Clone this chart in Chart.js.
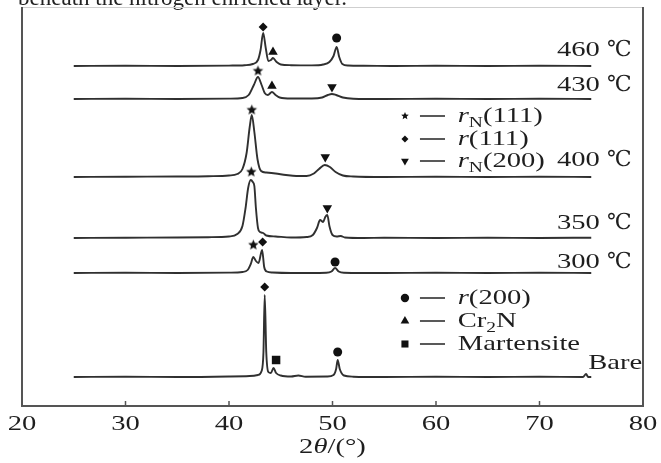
<!DOCTYPE html>
<html><head><meta charset="utf-8">
<script src="https://cdn.jsdelivr.net/npm/chart.js@4/dist/chart.umd.min.js"></script>
<style>html,body{margin:0;padding:0;background:#fff}canvas{display:block}</style>
</head><body>
<canvas id="c" width="661" height="463"></canvas>
<script>
// ---------- data ----------
const xTicks = [20, 30, 40, 50, 60, 70, 80];
const traceNames = ['460', '430', '400', '350', '300', 'Bare'];
const tempUnit = '℃';
const offsets = [340, 307, 229, 168, 133, 29];

const x460 = [25, 30, 35, 40, 41.5, 42.3, 42.8, 43.05, 43.3, 43.55, 43.8, 44.05, 44.25, 44.6, 45.0, 46, 48, 49.1, 49.7, 50.1, 50.4, 50.65, 50.95, 51.5, 53, 56, 60, 65, 70, 75];
const y460 = [0, 0.3, 0, 0.4, 0.8, 2, 6, 16, 33, 18, 5, 6, 8, 4, 1.5, 0.8, 0.6, 1.5, 4, 10, 19, 9, 2, 0.5, 0.3, 0, 0.3, 0, 0.3, 0];

const x430 = [25, 30, 35, 40, 41.3, 41.9, 42.4, 42.8, 43.15, 43.45, 43.75, 44.15, 44.5, 44.9, 46, 48, 49.0, 49.55, 49.95, 50.35, 51.0, 52, 55, 60, 65, 70, 75];
const y430 = [0, 0.3, 0, 0.4, 1, 4, 14, 22, 14, 6, 4, 7, 4, 1.5, 0.5, 0.5, 1.5, 4, 5, 4, 1.5, 0.3, 0, 0.3, 0, 0.3, 0];

const x400 = [25, 30, 35, 38, 40, 40.8, 41.3, 41.7, 42.0, 42.2, 42.45, 42.75, 43.1, 43.6, 44.5, 45.5, 46.5, 47.5, 48.2, 48.7, 49.25, 49.75, 50.3, 51.0, 52, 55, 60, 65, 70, 75];
const y400 = [0, 0.3, 0.5, 0.8, 1.5, 3, 8, 24, 50, 62, 45, 18, 6, 4.5, 3.5, 2, 1, 1, 3.5, 8, 12, 10, 5, 1.5, 0.5, 0, 0.3, 0, 0.3, 0];

const x350 = [25, 30, 35, 38, 40, 40.8, 41.3, 41.6, 41.85, 42.1, 42.3, 42.45, 42.6, 42.8, 43.0, 43.3, 43.6, 44.5, 46, 47.5, 48.1, 48.5, 48.8, 49.1, 49.3, 49.5, 49.7, 50.0, 50.4, 50.8, 51.2, 53, 55, 60, 65, 70, 75];
const y350 = [0, 0.3, 0.5, 0.8, 1.5, 4, 12, 30, 50, 58, 56, 52, 30, 10, 6, 5, 2.5, 1.5, 0.5, 1, 3, 10, 18, 16, 21, 23, 12, 3, 1.5, 2, 0.5, 0, 0.3, 0, 0.3, 0, 0.3];

const x300 = [25, 30, 35, 40, 41.3, 41.8, 42.1, 42.35, 42.6, 42.85, 43.2, 43.4, 43.65, 44.2, 46, 49.4, 49.9, 50.25, 50.6, 51.1, 55, 60, 65, 70, 75];
const y300 = [0, 0.3, 0, 0.4, 1, 3, 9, 16, 12, 10, 23, 6, 1.5, 0.5, 0, 0.3, 1.5, 5, 1.5, 0.3, 0, 0.3, 0, 0.3, 0];

const xBare = [25, 30, 35, 40, 42.0, 42.8, 43.15, 43.33, 43.45, 43.6, 43.8, 44.05, 44.3, 44.55, 45.0, 46.0, 46.7, 47.4, 49.5, 50.1, 50.35, 50.5, 50.7, 51.1, 52, 55, 60, 65, 70, 74.2, 74.5, 74.7, 75];
const yBare = [0, 0.3, 0, 0.5, 1, 2, 6, 25, 82, 25, 5, 4, 9, 4, 1.5, 0.5, 1.5, 0.3, 0.5, 2, 8, 17, 8, 1.5, 0.3, 0, 0.3, 0, 0.3, 0, 3, 0, 0];

const traceX = [x460, x430, x400, x350, x300, xBare];
const traceY = [y460, y430, y400, y350, y300, yBare];

// peak markers: 2θ, height, phase
const markX = [43.3, 44.25, 50.4, 42.8, 44.15, 49.95, 42.2, 49.3, 42.15, 49.5, 42.35, 43.25, 50.25, 43.45, 44.55, 50.5];
const markY = [379, 354, 368, 335, 320, 319, 296, 249, 234, 198, 161, 164, 144, 119, 46, 54];
const markPhase = ['r111', 'Cr2N', 'r200', 'rN111', 'Cr2N', 'rN200', 'rN111', 'rN200', 'rN111', 'rN200', 'rN111', 'r111', 'r200', 'r111', 'M', 'r200'];

// legend
const legendPhases = ['rN111', 'r111', 'rN200', 'r200', 'Cr2N', 'M'];
const legendTexts = [
  [['r', 'i'], ['N', 'sub'], ['(111)', '']],
  [['r', 'i'], ['(111)', '']],
  [['r', 'i'], ['N', 'sub'], ['(200)', '']],
  [['r', 'i'], ['(200)', '']],
  [['Cr', ''], ['2', 'sub'], ['N', '']],
  [['Martensite', '']]
];

// ---------- layout (positions, in axis units) ----------
const legendRowY = [290, 267, 245, 108, 85, 62];
const legendMarkX = 57.0, legendDash = [58.45, 60.87], legendTextX = 62.1;
const labelY = [356, 321, 246, 183, 144, 43];
const labelRightX = 78.9, bareLeftX = 74.7;

// ---------- styles ----------
const SX = 1.3;
const FONT = '"Liberation Serif","DejaVu Serif",serif';
function starCanvas(r) {
  const s = Math.ceil(r * 2 + 2);
  const cv = document.createElement('canvas');
  cv.width = s; cv.height = s;
  const c = cv.getContext('2d');
  c.fillStyle = '#111';
  c.beginPath();
  for (let i = 0; i < 10; i++) {
    const rr = i % 2 ? r * 0.45 : r;
    const a = -Math.PI / 2 + i * Math.PI / 5;
    c.lineTo(s / 2 + rr * Math.cos(a), s / 2 + rr * Math.sin(a));
  }
  c.closePath(); c.fill();
  return cv;
}
const starBig = starCanvas(5.5), starSmall = starCanvas(4);
const peakStyle = {
  rN111: {s: starBig, r: 5, rot: 0},
  r111: {s: 'rectRot', r: 4.5, rot: 0},
  rN200: {s: 'triangle', r: 5.5, rot: 180},
  r200: {s: 'circle', r: 4.5, rot: 0},
  Cr2N: {s: 'triangle', r: 5.5, rot: 0},
  M: {s: 'rect', r: 6, rot: 0}
};
const legStyle = {
  rN111: {s: starSmall, r: 4, rot: 0},
  r111: {s: 'rectRot', r: 3.5, rot: 0},
  rN200: {s: 'triangle', r: 4.5, rot: 180},
  r200: {s: 'circle', r: 4.2, rot: 0},
  Cr2N: {s: 'triangle', r: 5, rot: 0},
  M: {s: 'rect', r: 5, rot: 0}
};

function drawRich(ctx, parts, x, y, align, size) {
  const fontFor = k => k === 'i' ? `italic ${size}px ${FONT}` : k === 'sub' ? `${Math.round(size * 0.66)}px ${FONT}` : `${size}px ${FONT}`;
  ctx.save();
  let w = 0; const ws = [];
  for (const [t, k] of parts) {
    ctx.font = fontFor(k);
    let m = ctx.measureText(t).width;
    if (k === 'deg') m = m / SX;
    ws.push(m); w += m;
  }
  ctx.translate(x, y); ctx.scale(SX, 1);
  let cx = align === 'right' ? -w : align === 'center' ? -w / 2 : 0;
  ctx.textBaseline = 'middle'; ctx.textAlign = 'left'; ctx.fillStyle = '#1e1e1e';
  parts.forEach(([t, k], i) => {
    ctx.font = fontFor(k);
    if (k === 'deg') {
      ctx.save(); ctx.translate(cx, 0); ctx.scale(1 / SX, 1); ctx.fillText(t, 0, 0); ctx.restore();
    } else {
      ctx.fillText(t, cx, k === 'sub' ? size * 0.3 : 0);
    }
    cx += ws[i];
  });
  ctx.restore();
}

const deco = {
  id: 'deco',
  beforeDraw(chart) {
    const c = chart.ctx; c.save(); c.fillStyle = '#fff'; c.fillRect(0, 0, chart.width, chart.height); c.restore();
  },
  afterDraw(chart) {
    const {ctx, chartArea: a, scales: {x, y}} = chart;
    ctx.save();
    // cut-off caption text above the figure
    ctx.font = `23px ${FONT}`; ctx.fillStyle = '#222'; ctx.textBaseline = 'alphabetic'; ctx.textAlign = 'left';
    ctx.fillText('beneath the nitrogen enriched layer.', 18, 5);
    // frame
    ctx.strokeStyle = '#cfcfcf'; ctx.lineWidth = 1;
    ctx.beginPath(); ctx.moveTo(a.left, a.top + 0.5); ctx.lineTo(a.right, a.top + 0.5); ctx.stroke();
    ctx.strokeStyle = '#555'; ctx.lineWidth = 2;
    ctx.beginPath(); ctx.moveTo(a.left, a.top); ctx.lineTo(a.left, a.bottom); ctx.lineTo(a.right, a.bottom); ctx.lineTo(a.right, a.top); ctx.stroke();
    // ticks + tick labels
    ctx.lineWidth = 1.5;
    xTicks.forEach(v => {
      const px = x.getPixelForValue(v);
      ctx.beginPath(); ctx.moveTo(px, a.bottom); ctx.lineTo(px, a.bottom - 5); ctx.stroke();
      drawRich(ctx, [[String(v), '']], px, a.bottom + 18, 'center', 22);
    });
    // axis title
    drawRich(ctx, [['2', ''], ['θ', 'i'], ['/(°)', '']], x.getPixelForValue(50), a.bottom + 41, 'center', 22);
    // trace labels
    traceNames.forEach((t, i) => {
      if (t === 'Bare') drawRich(ctx, [[t, '']], x.getPixelForValue(bareLeftX), y.getPixelForValue(labelY[i]), 'left', 22);
      else drawRich(ctx, [[t + ' ', ''], [tempUnit, 'deg']], x.getPixelForValue(labelRightX), y.getPixelForValue(labelY[i]), 'right', 22);
    });
    // legend dashes + text
    ctx.strokeStyle = '#222'; ctx.lineWidth = 1.5;
    legendPhases.forEach((p, i) => {
      const py = y.getPixelForValue(legendRowY[i]);
      ctx.beginPath(); ctx.moveTo(x.getPixelForValue(legendDash[0]), py); ctx.lineTo(x.getPixelForValue(legendDash[1]), py); ctx.stroke();
      drawRich(ctx, legendTexts[i], x.getPixelForValue(legendTextX), py, 'left', 22);
    });
    ctx.restore();
  }
};

const lineSets = traceX.map((xs, k) => ({
  type: 'line',
  label: traceNames[k],
  data: xs.map((v, i) => ({x: v, y: offsets[k] + traceY[k][i]})),
  borderColor: '#303030',
  borderWidth: 1.9,
  pointRadius: 0,
  cubicInterpolationMode: 'monotone',
  fill: false
}));

const markSet = {
  type: 'scatter',
  label: 'peaks',
  data: markX.map((v, i) => ({x: v, y: markY[i], phase: markPhase[i]})),
  pointStyle: c => peakStyle[c.raw.phase].s,
  pointRadius: c => peakStyle[c.raw.phase].r,
  rotation: c => peakStyle[c.raw.phase].rot,
  backgroundColor: '#111', borderColor: '#111', borderWidth: 0
};
const legSet = {
  type: 'scatter',
  label: 'legend',
  data: legendPhases.map((p, i) => ({x: legendMarkX, y: legendRowY[i], phase: p})),
  pointStyle: c => legStyle[c.raw.phase].s,
  pointRadius: c => legStyle[c.raw.phase].r,
  rotation: c => legStyle[c.raw.phase].rot,
  backgroundColor: '#111', borderColor: '#111', borderWidth: 0
};

new Chart(document.getElementById('c'), {
  data: {datasets: [...lineSets, markSet, legSet]},
  options: {
    responsive: false,
    animation: false,
    events: [],
    layout: {padding: {left: 22, right: 18, top: 7, bottom: 57}},
    scales: {
      x: {type: 'linear', min: 20, max: 80, display: false},
      y: {type: 'linear', min: 0, max: 399, display: false}
    },
    plugins: {legend: {display: false}, tooltip: {enabled: false}}
  },
  plugins: [deco]
});
</script>
</body></html>
